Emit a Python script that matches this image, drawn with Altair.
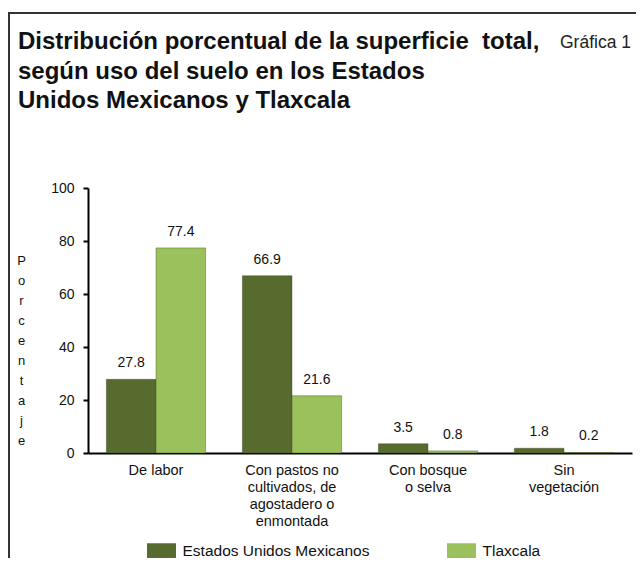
import altair as alt
import pandas as pd

categories = ["De labor", "Con pastos no|cultivados, de|agostadero o|enmontada", "Con bosque|o selva", "Sin|vegetación"]
series = ["Estados Unidos Mexicanos", "Tlaxcala"]
eum_values = [27.8, 66.9, 3.5, 1.8]
tlax_values = [77.4, 21.6, 0.8, 0.2]
colors = ["#586B2F", "#9BC15C"]
title_lines = ["Distribución porcentual de la superficie\u00a0 total,", "según uso del suelo en los Estados",
               "Unidos Mexicanos y Tlaxcala"]

rows = []
for c, a, b in zip(categories, eum_values, tlax_values):
    rows.append({"cat": c, "serie": series[0], "val": a})
    rows.append({"cat": c, "serie": series[1], "val": b})
df = pd.DataFrame(rows)

FONT = "Liberation Sans"

x_enc = alt.X("cat:N", sort=categories,
              scale=alt.Scale(paddingInner=0.27, paddingOuter=0.135),
              axis=alt.Axis(title=None, labelAngle=0, ticks=False, domainWidth=2, domainColor="#000",
                            labelExpr="split(datum.label, '|')", labelFontSize=14.5, labelColor="#111",
                            labelLineHeight=17, labelPadding=10, labelFont=FONT, labelBaseline="top"))
xo_enc = alt.XOffset("serie:N", sort=series, scale=alt.Scale(paddingInner=0, paddingOuter=0))

bars = alt.Chart(df).mark_bar(stroke="#3e4b1c", strokeWidth=0.8, strokeOpacity=0.5).encode(
    x=x_enc,
    xOffset=xo_enc,
    y=alt.Y("val:Q", scale=alt.Scale(domain=[0, 100]),
            axis=alt.Axis(values=[0, 20, 40, 60, 80, 100], grid=False, domainWidth=2, domainColor="#000",
                          tickColor="#000", tickWidth=2, tickSize=5, labelPadding=9, labelFontSize=14,
                          labelColor="#111", labelFont=FONT,
                          title=list("Porcentaje"), titleAngle=0, titleFontWeight="normal",
                          titleFontSize=13, titleFont=FONT, titleColor="#111", titleLineHeight=20,
                          titleX=-67, titleY=72, titleAlign="center", titleBaseline="middle")),
    color=alt.Color("serie:N", sort=series, scale=alt.Scale(domain=series, range=colors),
                    legend=alt.Legend(title=None, orient="none", legendX=63.5, legendY=353,
                                      direction="horizontal", columns=2, columnPadding=77,
                                      symbolType="M-1.45,-0.8H1.45V0.8H-1.45Z", symbolSize=400,
                                      symbolStrokeWidth=0, labelFontSize=15.5, labelFont=FONT,
                                      labelColor="#111", labelOffset=11, labelLimit=400)),
)

labels = alt.Chart(df).mark_text(baseline="bottom", dy=-9, fontSize=14, font=FONT, color="#111").encode(
    x=alt.X("cat:N", sort=categories),
    xOffset=alt.XOffset("serie:N", sort=series),
    y="val:Q",
    text=alt.Text("val:Q", format=".1f"),
)

title = alt.Chart(pd.DataFrame({"a": [0]})).mark_text(
    align="left", baseline="alphabetic", fontSize=24, fontWeight="bold", font=FONT, color="#111",
    lineHeight=29.5).encode(text=alt.value(title_lines), x=alt.value(-70), y=alt.value(-139))

grafica = alt.Chart(pd.DataFrame({"t": ["Gráfica 1"]})).mark_text(
    align="left", baseline="alphabetic", fontSize=17.5, font=FONT, color="#222").encode(
    text="t:N", x=alt.value(472), y=alt.value(-140))

left_border = alt.Chart(pd.DataFrame({"a": [0]})).mark_rule(color="#333", strokeWidth=2).encode(
    x=alt.value(-79), y=alt.value(-175), y2=alt.value(400))
top_border = alt.Chart(pd.DataFrame({"a": [0]})).mark_rule(color="#333", strokeWidth=2).encode(
    x=alt.value(-80), x2=alt.value(560), y=alt.value(-175))

chart = alt.layer(bars, labels, title, grafica, left_border, top_border).properties(
    width=544, height=265,
    autosize=alt.AutoSizeParams(type="none"),
    padding={"left": 80, "top": 180, "right": 4, "bottom": 105},
).configure_view(stroke=None)

chart.save("out.html", embed_options={"renderer": "svg", "actions": False})
